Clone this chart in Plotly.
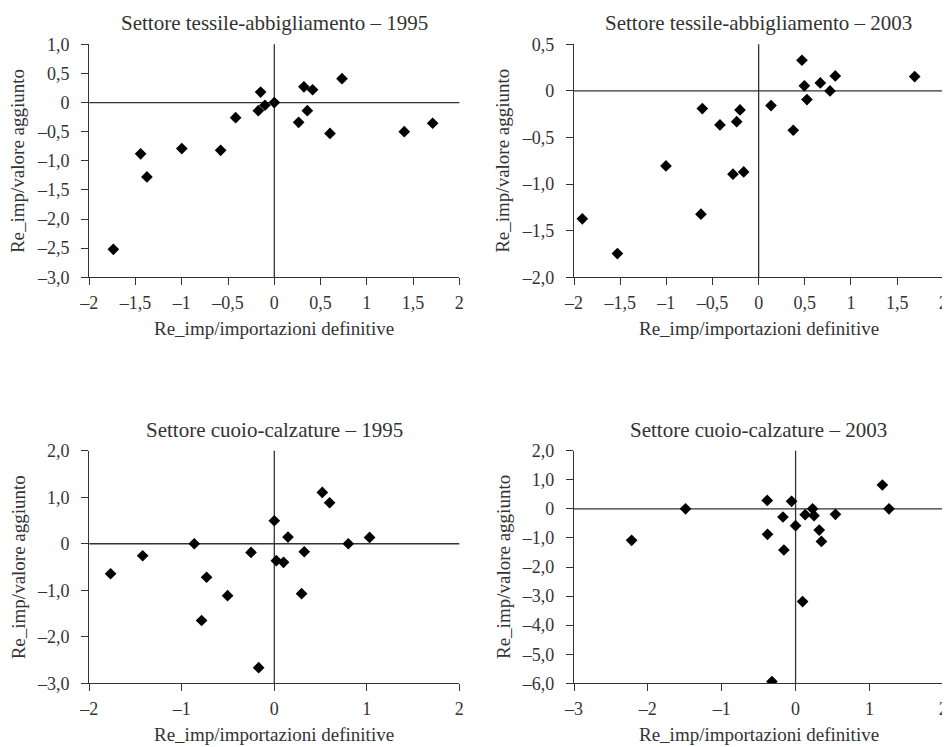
import plotly.graph_objects as go

# ---- data ----
tex95_x = [-1.74, -1.445, -1.377, -1.0, -0.58, -0.418, -0.148, -0.173, -0.101, 0.0, 0.263, 0.32, 0.414, 0.357, 0.602, 0.732, 1.405, 1.712]
tex95_y = [-2.52, -0.88, -1.276, -0.79, -0.82, -0.26, 0.18, -0.14, -0.046, 0.0, -0.34, 0.27, 0.22, -0.14, -0.53, 0.41, -0.50, -0.355]

tex03_x = [-1.91, -1.53, -1.004, -0.625, -0.61, -0.419, -0.238, -0.202, -0.278, -0.162, 0.134, 0.375, 0.469, 0.495, 0.523, 0.668, 0.773, 0.83, 1.69]
tex03_y = [-1.373, -1.745, -0.805, -1.323, -0.19, -0.365, -0.33, -0.204, -0.894, -0.869, -0.157, -0.422, 0.329, 0.054, -0.093, 0.086, 0.0, 0.161, 0.154]

cuo95_x = [-1.77, -1.423, -0.865, -0.732, -0.786, -0.505, -0.252, -0.169, 0.0, 0.022, 0.1, 0.148, 0.324, 0.295, 0.519, 0.598, 0.8, 1.03]
cuo95_y = [-0.645, -0.258, 0.0, -0.72, -1.65, -1.117, -0.186, -2.665, 0.494, -0.365, -0.40, 0.143, -0.172, -1.074, 1.103, 0.881, 0.0, 0.136]

cuo03_x = [-2.22, -1.49, -0.384, -0.38, -0.32, -0.171, -0.158, -0.054, 0.0, 0.13, 0.23, 0.25, 0.32, 0.35, 0.095, 0.54, 1.175, 1.265]
cuo03_y = [-1.083, 0.0, 0.29, -0.877, -5.94, -0.28, -1.415, 0.258, -0.58, -0.2, 0.0, -0.235, -0.73, -1.12, -3.19, -0.19, 0.82, 0.0]

titles = ["Settore tessile-abbigliamento \u2013 1995",
          "Settore tessile-abbigliamento \u2013 2003",
          "Settore cuoio-calzature \u2013 1995",
          "Settore cuoio-calzature \u2013 2003"]
x_title = "Re_imp/importazioni definitive"
y_title = "Re_imp/valore aggiunto"

x_ticks_a = [-2, -1.5, -1, -0.5, 0, 0.5, 1, 1.5, 2]
x_labels_a = ["\u20132", "\u20131,5", "\u20131", "\u20130,5", "0", "0,5", "1", "1,5", "2"]
x_ticks_b = [-2, -1, 0, 1, 2]
x_labels_b = ["\u20132", "\u20131", "0", "1", "2"]
x_ticks_c = [-3, -2, -1, 0, 1, 2]
x_labels_c = ["\u20133", "\u20132", "\u20131", "0", "1", "2"]

y_ticks_1 = [1.0, 0.5, 0, -0.5, -1.0, -1.5, -2.0, -2.5, -3.0]
y_labels_1 = ["1,0", "0,5", "0", "\u20130,5", "\u20131,0", "\u20131,5", "\u20132,0", "\u20132,5", "\u20133,0"]
y_ticks_2 = [0.5, 0, -0.5, -1.0, -1.5, -2.0]
y_labels_2 = ["0,5", "0", "\u20130,5", "\u20131,0", "\u20131,5", "\u20132,0"]
y_ticks_3 = [2.0, 1.0, 0, -1.0, -2.0, -3.0]
y_labels_3 = ["2,0", "1,0", "0", "\u20131,0", "\u20132,0", "\u20133,0"]
y_ticks_4 = [2.0, 1.0, 0, -1.0, -2.0, -3.0, -4.0, -5.0, -6.0]
y_labels_4 = ["2,0", "1,0", "0", "\u20131,0", "\u20132,0", "\u20133,0", "\u20134,0", "\u20135,0", "\u20136,0"]

# ---- layout ----
# the page body keeps an 8px default margin, so the figure is drawn 8px smaller
# and every page position is shifted by that offset
OFF = 8
FW, FH = 950 - OFF, 747 - OFF
FONT = "Liberation Serif, DejaVu Serif, serif"
INK = "#333333"


def fx(px):
    return (px - OFF) / FW


def fy(py):
    return 1 - (py - OFF) / FH


panels = [
    dict(x=tex95_x, y=tex95_y, xr=[-2, 2], yr=[-3, 1], xt=(x_ticks_a, x_labels_a), yt=(y_ticks_1, y_labels_1),
         px=(89.3, 459.3), py=(44.3, 277.3)),
    dict(x=tex03_x, y=tex03_y, xr=[-2, 2], yr=[-2, 0.5], xt=(x_ticks_a, x_labels_a), yt=(y_ticks_2, y_labels_2),
         px=(574, 943.3), py=(44.3, 277.3)),
    dict(x=cuo95_x, y=cuo95_y, xr=[-2, 2], yr=[-3, 2], xt=(x_ticks_b, x_labels_b), yt=(y_ticks_3, y_labels_3),
         px=(89.3, 459.3), py=(450.7, 683.3)),
    dict(x=cuo03_x, y=cuo03_y, xr=[-3, 2], yr=[-6, 2], xt=(x_ticks_c, x_labels_c), yt=(y_ticks_4, y_labels_4),
         px=(574, 943.3), py=(450.7, 683.3)),
]

fig = go.Figure()
layout = dict(template="none", width=FW, height=FH, margin=dict(l=0, r=0, t=0, b=0, pad=0, autoexpand=False),
              paper_bgcolor="white", plot_bgcolor="white", showlegend=False,
              font=dict(family=FONT, color=INK, size=18))
annotations = []
shapes = []

for i, p in enumerate(panels):
    n = "" if i == 0 else str(i + 1)
    xa, ya = "x" + n, "y" + n
    fig.add_trace(go.Scatter(x=p["x"], y=p["y"], mode="markers", xaxis=xa, yaxis=ya,
                             marker=dict(symbol="diamond", size=9, color="black", line=dict(width=0)),
                             hoverinfo="x+y"))
    x0, x1 = p["px"]
    y0, y1 = p["py"]
    layout["xaxis" + n] = dict(domain=[fx(x0), fx(x1)], range=p["xr"], anchor=ya, automargin=False,
                               tickvals=p["xt"][0], ticktext=p["xt"][1],
                               showline=True, linecolor=INK, linewidth=1.3,
                               ticks="outside", ticklen=7, tickcolor=INK, tickwidth=1.3,
                               showgrid=False, zeroline=False, ticklabelstandoff=2,
                               tickfont=dict(family=FONT, size=18, color=INK))
    layout["yaxis" + n] = dict(domain=[fy(y1), fy(y0)], range=p["yr"], anchor=xa, automargin=False,
                               tickvals=p["yt"][0], ticktext=p["yt"][1],
                               showline=True, linecolor=INK, linewidth=1.3,
                               ticks="outside", ticklen=7, tickcolor=INK, tickwidth=1.3,
                               showgrid=False, zeroline=False, ticklabelstandoff=8,
                               tickfont=dict(family=FONT, size=18, color=INK))
    # zero lines across the plot
    shapes.append(dict(type="line", xref=xa, yref=ya + " domain", x0=0, x1=0, y0=0, y1=1,
                       line=dict(color=INK, width=1.3), layer="below"))
    shapes.append(dict(type="line", xref=xa + " domain", yref=ya, x0=0, x1=1, y0=0, y1=0,
                       line=dict(color=INK, width=1.3), layer="below"))
    cx = (x0 + x1) / 2
    annotations.append(dict(text=titles[i], x=fx(cx), y=fy(y0 - 21), xref="paper", yref="paper",
                            showarrow=False, xanchor="center", yanchor="middle",
                            font=dict(family=FONT, size=21, color=INK)))
    annotations.append(dict(text=x_title, x=fx(cx), y=fy(y1 + 51), xref="paper", yref="paper",
                            showarrow=False, xanchor="center", yanchor="middle",
                            font=dict(family=FONT, size=19, color=INK)))
    annotations.append(dict(text=y_title, x=fx(x0 - 71), y=fy((y0 + y1) / 2), xref="paper", yref="paper",
                            showarrow=False, xanchor="center", yanchor="middle", textangle=-90,
                            font=dict(family=FONT, size=19, color=INK)))

layout["annotations"] = annotations
layout["shapes"] = shapes
fig.update_layout(**layout)
fig.write_html("out.html")
